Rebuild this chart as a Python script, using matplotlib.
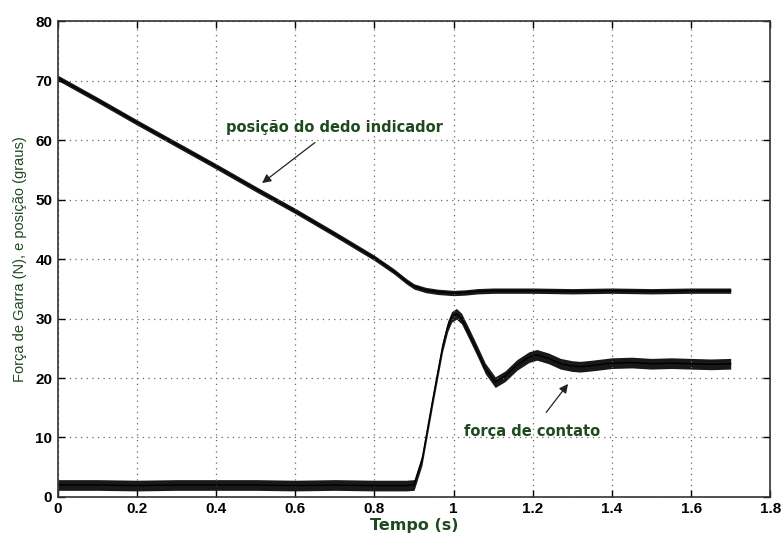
import matplotlib
matplotlib.use('Agg')
import matplotlib.pyplot as plt
import numpy as np

# values
t_pos = [0.0, 0.1, 0.2, 0.3, 0.4, 0.5, 0.6, 0.7, 0.8, 0.85, 0.88, 0.9, 0.93,
         0.96, 1.0, 1.03, 1.06, 1.1, 1.2, 1.3, 1.4, 1.5, 1.6, 1.7]
pos = [70.5, 66.8, 63.0, 59.3, 55.6, 51.8, 48.1, 44.2, 40.2, 37.9, 36.3,
       35.4, 34.8, 34.5, 34.3, 34.4, 34.6, 34.7, 34.7, 34.6, 34.7, 34.6,
       34.7, 34.7]
pos_spread = 0.45

t_force = [0.0, 0.1, 0.2, 0.3, 0.4, 0.5, 0.6, 0.7, 0.8, 0.88, 0.9, 0.92,
           0.947, 0.972, 0.985, 0.995, 1.007, 1.02, 1.04, 1.06, 1.08, 1.105,
           1.13, 1.16, 1.19, 1.21, 1.24, 1.27, 1.3, 1.32, 1.35, 1.4, 1.45,
           1.5, 1.55, 1.6, 1.65, 1.7]
force = [2.0, 2.0, 1.9, 2.0, 2.0, 2.0, 1.9, 2.0, 1.9, 1.9, 2.0, 6.2,
         16.3, 25.3, 28.7, 30.3, 30.8, 30.0, 27.3, 24.5, 21.6, 19.3,
         20.3, 22.2, 23.5, 23.9, 23.3, 22.4, 22.0, 21.9, 22.1, 22.5, 22.6,
         22.4, 22.5, 22.4, 22.3, 22.4]
force_spread = 0.9

x_ticks = [0, 0.2, 0.4, 0.6, 0.8, 1, 1.2, 1.4, 1.6, 1.8]
x_labels = ['0', '0.2', '0.4', '0.6', '0.8', '1', '1.2', '1.4', '1.6', '1.8']
y_ticks = [0, 10, 20, 30, 40, 50, 60, 70, 80]

green = '#1f4a1f'

fig = plt.figure(figsize=(7.82, 5.36), dpi=100)
ax = fig.add_axes([0.074, 0.073, 0.911, 0.887])

t_pos = np.array(t_pos)
pos = np.array(pos)
t_force = np.array(t_force)
force = np.array(force)

ax.fill_between(t_pos, pos - pos_spread, pos + pos_spread, color='black',
                lw=0, alpha=0.9)
ax.plot(t_pos, pos, color='black', lw=1.0)
ax.fill_between(t_force, force - force_spread, force + force_spread,
                color='black', lw=0, alpha=0.9)
ax.plot(t_force, force, color='black', lw=1.0)

ax.set_xlim(0, 1.8)
ax.set_ylim(0, 80)
ax.set_xticks(x_ticks)
ax.set_xticklabels(x_labels)
ax.set_yticks(y_ticks)
ax.grid(True, linestyle=(0, (1, 3.5)), color='#666666', lw=0.9)
ax.tick_params(direction='in', top=True, right=True, length=5, width=1,
               labelsize=11, pad=4)
for lab in ax.get_xticklabels() + ax.get_yticklabels():
    lab.set_fontweight('bold')
    lab.set_family('Liberation Sans')
for s in ax.spines.values():
    s.set_linewidth(1.2)
    s.set_color('#333333')

ax.set_xlabel('Tempo (s)', color=green, fontsize=11.5, fontweight='bold',
              family='Liberation Sans Narrow', labelpad=1)
ax.set_ylabel('Força de Garra (N), e posição (graus)', color=green,
              fontsize=10.5, family='Liberation Sans', labelpad=6)

ax.annotate('posição do dedo indicador', xy=(0.516, 52.8),
            xytext=(0.70, 62.2), ha='center', va='center', color=green,
            fontsize=10.5, fontweight='bold', family='DejaVu Sans',
            arrowprops=dict(arrowstyle='-|>', color='#222222', lw=0.9,
                            shrinkA=6, shrinkB=0, mutation_scale=13))
ax.annotate('força de contato', xy=(1.289, 19.0),
            xytext=(1.197, 11.0), ha='center', va='center', color=green,
            fontsize=10.5, fontweight='bold', family='DejaVu Sans',
            arrowprops=dict(arrowstyle='-|>', color='#222222', lw=0.9,
                            shrinkA=8, shrinkB=0, mutation_scale=13))

fig.savefig('out.png', dpi=100)
